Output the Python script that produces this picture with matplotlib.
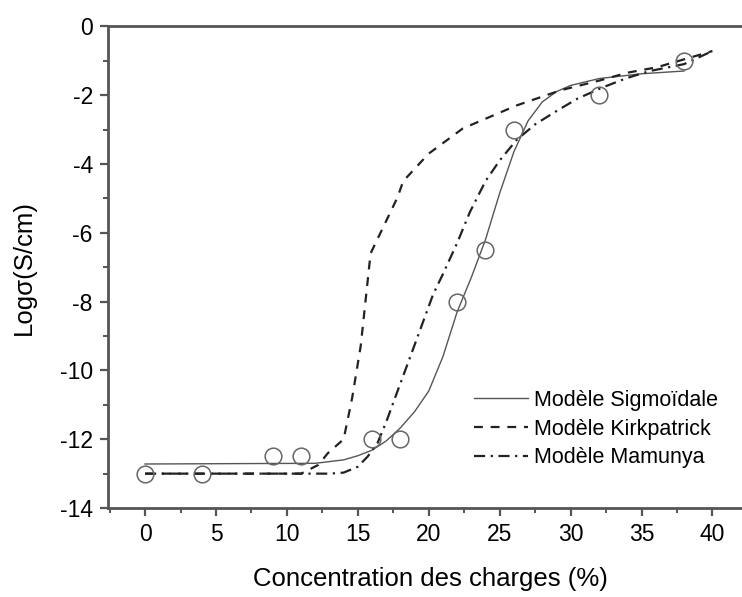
import matplotlib
matplotlib.use('Agg')
import matplotlib.pyplot as plt
from matplotlib.ticker import MultipleLocator

plt.rcParams['font.family'] = ['Liberation Sans', 'DejaVu Sans']
plt.rcParams['axes.unicode_minus'] = False

# experimental points
exp_x = [0, 4, 9, 11, 16, 18, 22, 24, 26, 32, 38]
exp_y = [-13, -13, -12.5, -12.5, -12, -12, -8, -6.5, -3, -2, -1]

# model curves
sig_x = [0, 12, 14, 15, 16, 17, 18, 19, 20, 21, 22, 23, 24, 25, 26, 27, 28, 29, 30, 32, 35, 38]
sig_y = [-12.72, -12.7, -12.6, -12.48, -12.32, -12.05, -11.67, -11.2, -10.6, -9.6, -8.3,
         -7.3, -6.2, -4.85, -3.65, -2.75, -2.2, -1.9, -1.72, -1.52, -1.38, -1.3]

kirk_x = [0, 11, 12.2, 12.9, 14.0, 14.6, 15.2, 15.9, 16.6, 17.8, 18.2, 20.0, 22.4, 26.2, 29.3, 32.1, 34.0, 36.1, 40]
kirk_y = [-13, -13, -12.75, -12.4, -12.0, -10.8, -9.3, -6.6, -6.0, -4.97, -4.5, -3.7, -2.97, -2.3, -1.86, -1.57, -1.35, -1.19, -0.72]

mam_x = [0, 13, 14, 15, 15.7, 16.4, 17, 17.8, 18.7, 20.3, 21, 22, 22.9, 24, 25, 26.2, 27.5, 29.1, 30.5, 32.3, 34, 35.6, 38, 40]
mam_y = [-13, -13, -12.97, -12.8, -12.5, -12.1, -11.5, -10.6, -9.6, -7.8, -7.2, -6.3, -5.4, -4.5, -3.9, -3.3, -2.85, -2.44, -2.1, -1.77, -1.5, -1.3, -1.1, -0.72]

labels = ['Modèle Sigmoïdale', 'Modèle Kirkpatrick', 'Modèle Mamunya']

fig = plt.figure(figsize=(7.42, 5.97), dpi=100)
ax = fig.add_axes([0.1456, 0.149, 0.87, 0.807])

ax.plot(sig_x, sig_y, '-', color='#555555', lw=1.0, label=labels[0])
ax.plot(kirk_x, kirk_y, color='#222222', lw=1.6, ls=(0, (4, 3.5)), label=labels[1])
ax.plot(mam_x, mam_y, color='#222222', lw=1.6, ls=(0, (5, 2.5, 1, 2.5)), label=labels[2])
ax.plot(exp_x, exp_y, 'o', ms=12, mfc='none', mec='#666666', mew=1.1, zorder=5)

ax.set_xlim(-2.61, 42.9)
ax.set_ylim(-14, 0)
ax.xaxis.set_major_locator(MultipleLocator(5))
ax.xaxis.set_minor_locator(MultipleLocator(2.5))
ax.yaxis.set_major_locator(MultipleLocator(2))
ax.yaxis.set_minor_locator(MultipleLocator(1))

for side in ['left', 'top', 'bottom']:
    ax.spines[side].set_linewidth(2)
    ax.spines[side].set_color('#555555')
ax.spines['right'].set_visible(False)

ax.tick_params(which='major', direction='out', length=6, width=1.6, color='#555555',
               labelsize=16.5, pad=5)
ax.tick_params(which='minor', direction='out', length=3.5, width=1.4, color='#555555')
ax.tick_params(top=False, right=False, which='both')

ax.set_xlabel('Concentration des charges (%)', fontsize=18.5, labelpad=15)
ax.set_ylabel('Logσ(S/cm)', fontsize=18.5, labelpad=17)

leg = ax.legend(loc='center left', bbox_to_anchor=(455 / 742, 1 - 429 / 597),
                bbox_transform=fig.transFigure, frameon=False, fontsize=15.5,
                handlelength=2.5, handletextpad=0.25, labelspacing=0.35)

fig.savefig('out.png', dpi=100, facecolor='white')
